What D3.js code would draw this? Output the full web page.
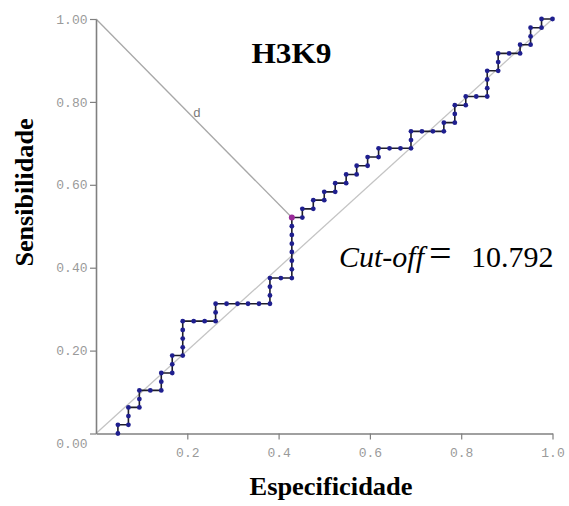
<!DOCTYPE html>
<html>
<head>
<meta charset="utf-8">
<script src="https://cdn.jsdelivr.net/npm/d3@7"></script>
<style>
  html, body { margin: 0; padding: 0; background: #fff; }
  svg { display: block; }
  .serif { font-family: "Liberation Serif", "Times New Roman", "DejaVu Serif", serif; }
  .mono { font-family: "Liberation Mono", "Courier New", monospace; }
</style>
</head>
<body>
<svg id="chart" width="569" height="506"></svg>
<script>
// ---- data ----
const title = "H3K9";
const xLabel = "Especificidade";
const yLabel = "Sensibilidade";
const cutoffLabel = "Cut-off";
const cutoffValue = "10.792";
const xTicks = [0.2, 0.4, 0.6, 0.8, 1.0];
const yTicks = [0.0, 0.2, 0.4, 0.6, 0.8, 1.0];
// ROC points (x: axis "Especificidade", y: "Sensibilidade")
const rocX = [0.048,0.048,0.071,0.071,0.071,0.095,0.095,0.095,0.119,0.143,0.143,0.143,0.167,0.167,0.167,
  0.190,0.190,0.190,0.190,0.190,0.214,0.238,0.262,0.262,0.262,0.286,0.310,0.333,0.357,0.381,0.381,0.381,0.381,
  0.405,0.429,0.429,0.429,0.429,0.429,0.429,0.429,0.429,0.452,0.452,0.476,0.476,0.500,0.500,0.524,0.524,0.548,0.548,
  0.571,0.571,0.595,0.595,0.619,0.619,0.643,0.667,0.690,0.690,0.690,0.714,0.738,0.762,0.762,0.786,0.786,0.786,
  0.810,0.810,0.833,0.857,0.857,0.857,0.857,0.881,0.881,0.881,0.905,0.929,0.929,0.952,0.952,0.952,0.976,0.976,1.000];
const rocY = [0.000,0.021,0.021,0.042,0.063,0.063,0.083,0.104,0.104,0.104,0.125,0.146,0.146,0.167,0.188,
  0.188,0.208,0.229,0.250,0.271,0.271,0.271,0.271,0.292,0.313,0.313,0.313,0.313,0.313,0.313,0.333,0.354,0.375,
  0.375,0.375,0.396,0.417,0.438,0.458,0.479,0.500,0.521,0.521,0.542,0.542,0.563,0.563,0.583,0.583,0.604,0.604,0.625,
  0.625,0.646,0.646,0.667,0.667,0.688,0.688,0.688,0.688,0.708,0.729,0.729,0.729,0.729,0.750,0.750,0.771,0.792,
  0.792,0.813,0.813,0.813,0.833,0.854,0.875,0.875,0.896,0.917,0.917,0.917,0.938,0.938,0.958,0.979,0.979,1.000,1.000];
const cutoffPoint = [0.429, 0.521];
const dStart = [0.0, 1.0];
const diagonal = [[0, 0], [1, 1]];

// ---- drawing ----
const svg = d3.select("#chart");
const x = d3.scaleLinear().domain([0, 1]).range([96, 552.5]);
const y = d3.scaleLinear().domain([0, 1]).range([433.5, 19]);

// diagonal reference
svg.append("line")
  .attr("x1", x(diagonal[0][0])).attr("y1", y(diagonal[0][1]))
  .attr("x2", x(diagonal[1][0])).attr("y2", y(diagonal[1][1]))
  .attr("stroke", "#c4c4c4").attr("stroke-width", 1.3);

// distance line d
svg.append("line")
  .attr("x1", x(dStart[0])).attr("y1", y(dStart[1]))
  .attr("x2", x(cutoffPoint[0])).attr("y2", y(cutoffPoint[1]))
  .attr("stroke", "#a8a8a8").attr("stroke-width", 1.3);
svg.append("text")
  .attr("class", "mono")
  .attr("x", x((dStart[0] + cutoffPoint[0]) / 2) + 3)
  .attr("y", y((dStart[1] + cutoffPoint[1]) / 2) - 1)
  .attr("text-anchor", "middle")
  .attr("font-size", 13).attr("fill", "#7a7a7a")
  .text("d");

// axes
const xAxis = d3.axisBottom(x).tickValues(xTicks).tickFormat(d3.format(".1f")).tickSize(6).tickSizeOuter(0);
const yAxis = d3.axisLeft(y).tickValues(yTicks).tickFormat(d3.format(".2f")).tickSize(6).tickSizeOuter(0);

const gx = svg.append("g").attr("transform", `translate(0,${y(0)})`).call(xAxis);
const gy = svg.append("g").attr("transform", `translate(${x(0)},0)`).call(yAxis);

[gx, gy].forEach(g => {
  g.attr("font-family", null);
  g.select(".domain").attr("stroke", "#808080").attr("stroke-width", 1.6);
  g.selectAll(".tick line").attr("stroke", "#808080").attr("stroke-width", 1.2);
  g.selectAll(".tick text")
    .attr("class", "mono")
    .attr("font-size", 13).attr("fill", "#9a9a9a");
});
gx.selectAll(".tick text").attr("dy", null).attr("y", 23);
gy.selectAll(".tick text").attr("x", -8.5);
gy.selectAll(".tick text").filter(d => d === 0).attr("dy", null).attr("y", 14);

// ROC step line
const pts = rocX.map((v, i) => [v, rocY[i]]);
svg.append("path")
  .datum(pts)
  .attr("fill", "none")
  .attr("stroke", "#1e1e2a").attr("stroke-width", 1.6)
  .attr("d", d3.line().x(d => x(d[0])).y(d => y(d[1])));

svg.append("g").selectAll("circle")
  .data(pts)
  .join("circle")
  .attr("cx", d => x(d[0])).attr("cy", d => y(d[1]))
  .attr("r", 2.4)
  .attr("fill", "#1f1f8f");

svg.append("circle")
  .attr("cx", x(cutoffPoint[0])).attr("cy", y(cutoffPoint[1]))
  .attr("r", 3).attr("fill", "#9a2a9a");

// title
svg.append("text")
  .attr("class", "serif")
  .attr("x", 291.5).attr("y", 62.5)
  .attr("text-anchor", "middle")
  .attr("font-weight", "bold").attr("font-size", 28.5)
  .attr("textLength", 80).attr("lengthAdjust", "spacingAndGlyphs")
  .text(title);

// x label
svg.append("text")
  .attr("class", "serif")
  .attr("x", 331).attr("y", 495)
  .attr("text-anchor", "middle")
  .attr("font-weight", "bold").attr("font-size", 25)
  .attr("textLength", 163).attr("lengthAdjust", "spacingAndGlyphs")
  .text(xLabel);

// y label
svg.append("text")
  .attr("class", "serif")
  .attr("transform", "translate(33,192.5) rotate(-90)")
  .attr("text-anchor", "middle")
  .attr("font-weight", "bold").attr("font-size", 26)
  .attr("textLength", 148).attr("lengthAdjust", "spacingAndGlyphs")
  .text(yLabel);

// cut-off annotation
svg.append("text")
  .attr("class", "serif")
  .attr("x", 339).attr("y", 267)
  .attr("font-size", 30).attr("font-style", "italic").attr("fill", "#000")
  .text(cutoffLabel);
svg.append("text")
  .attr("class", "serif")
  .attr("x", 429).attr("y", 267)
  .attr("font-size", 40).attr("fill", "#000")
  .text("=");
svg.append("text")
  .attr("class", "serif")
  .attr("x", 471).attr("y", 267)
  .attr("font-size", 30).attr("fill", "#000")
  .text(cutoffValue);
</script>
</body>
</html>
